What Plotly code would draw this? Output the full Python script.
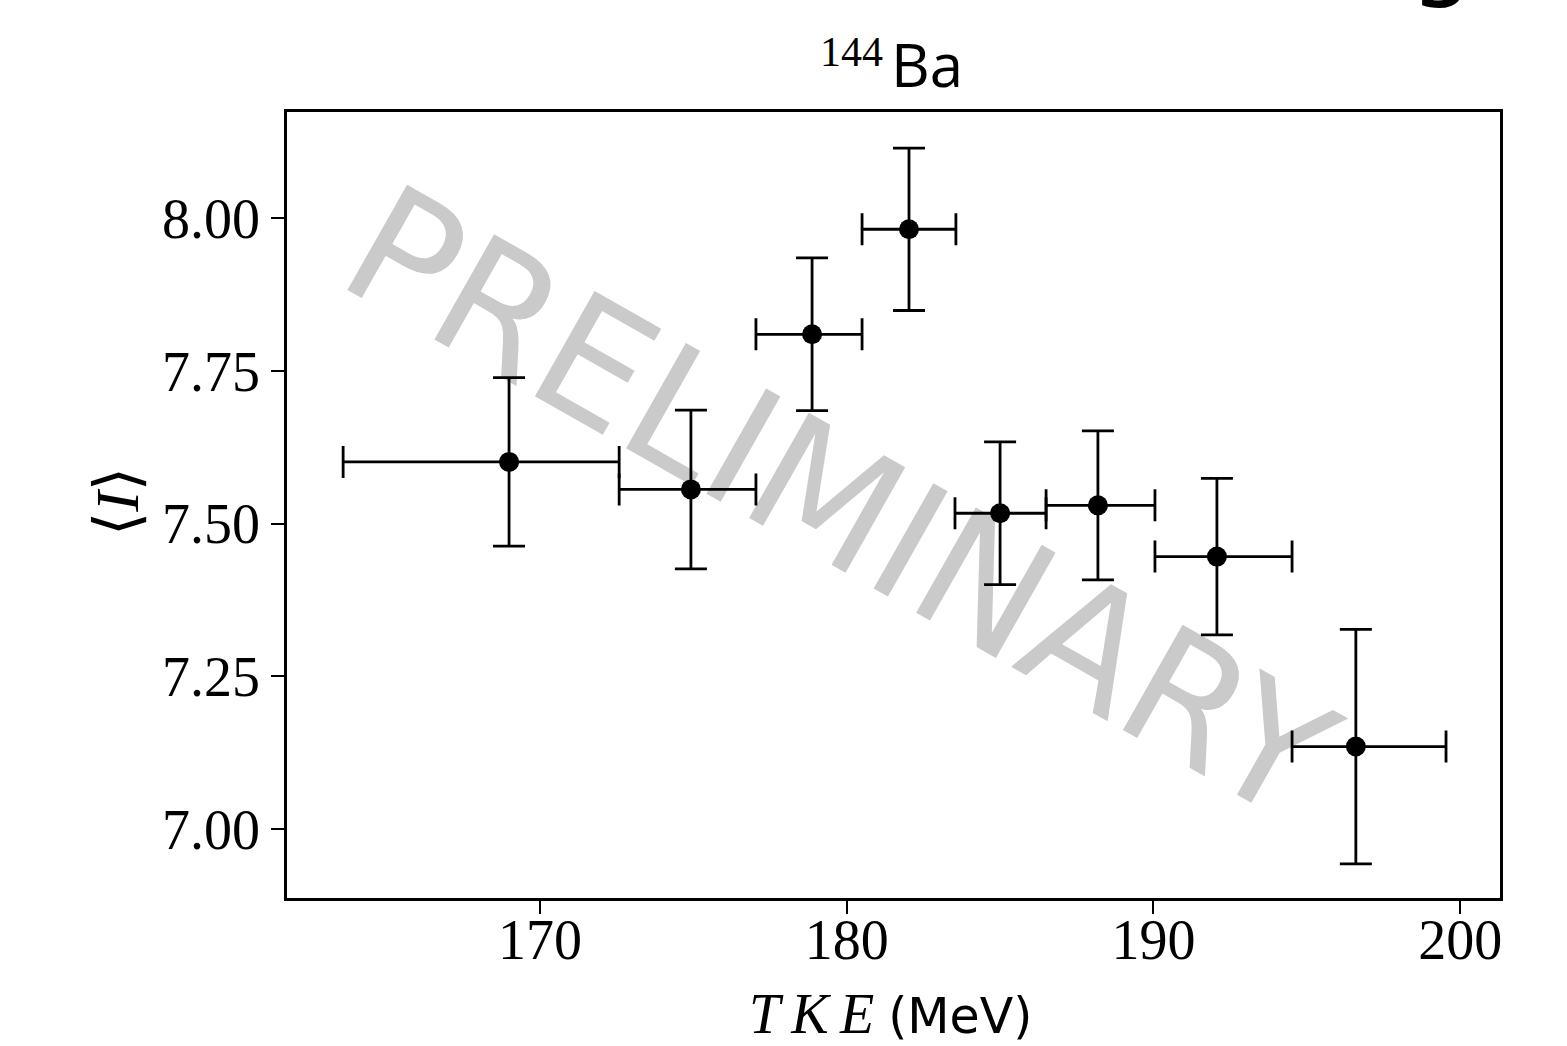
import plotly.graph_objects as go

# Data
tke = [168.99, 174.92, 178.87, 182.03, 185.0, 188.19, 192.07, 196.6]
tke_lo = [163.58, 172.58, 177.04, 180.50, 183.53, 186.50, 190.05, 194.52]
tke_hi = [172.58, 177.04, 180.50, 183.56, 186.50, 190.05, 194.52, 199.54]
mean_I = [7.601, 7.556, 7.810, 7.982, 7.517, 7.530, 7.446, 7.135]
err_I = [0.138, 0.130, 0.125, 0.133, 0.117, 0.122, 0.128, 0.192]
x_ticks = [170, 180, 190, 200]
y_ticks = [7.00, 7.25, 7.50, 7.75, 8.00]
y_ticklabels = ["7.00", "7.25", "7.50", "7.75", "8.00"]

W, H = 1567, 1046
L, R, T, B = 287, 1500, 112, 898

def px(xp):
    return (xp - L) / (R - L)

def py(yp):
    return (B - yp) / (B - T)

err_plus = [h - x for h, x in zip(tke_hi, tke)]
err_minus = [x - l for l, x in zip(tke_lo, tke)]

SERIF = "Liberation Serif, DejaVu Serif, serif"
SANS = "DejaVu Sans, sans-serif"

fig = go.Figure()
fig.add_trace(go.Scatter(
    x=tke, y=mean_I, mode="markers",
    marker=dict(color="black", size=20),
    error_x=dict(type="data", array=err_plus, arrayminus=err_minus, symmetric=False,
                 color="black", thickness=2.8, width=16),
    error_y=dict(type="data", array=err_I, color="black", thickness=2.8, width=16),
    showlegend=False,
))

fig.update_layout(
    width=W, height=H,
    margin=dict(l=L, r=W - R, t=T, b=H - B, autoexpand=False),
    paper_bgcolor="white", plot_bgcolor="white",
    xaxis=dict(range=[161.75, 201.3], tickvals=x_ticks, ticks="outside", ticklen=13,
               tickwidth=2, tickcolor="black", showgrid=False, zeroline=False,
               showline=True, linecolor="black", linewidth=2.5, mirror=True,
               tickfont=dict(family=SERIF, size=56, color="black"), ticklabelstandoff=-22),
    yaxis=dict(range=[6.887, 8.174], tickvals=y_ticks, ticktext=y_ticklabels,
               ticks="outside", ticklen=13, tickwidth=2, tickcolor="black",
               showgrid=False, zeroline=False, showline=True, linecolor="black",
               linewidth=2.5, mirror=True,
               tickfont=dict(family=SERIF, size=56, color="black"), ticklabelstandoff=0),
    shapes=[dict(type="line", xref="paper", yref="paper",
                 x0=px(400), y0=py(240), x1=px(1290), y1=py(745),
                 line=dict(width=0, color="rgba(0,0,0,0)"), layer="below",
                 label=dict(text="PRELIMINARY", textposition="middle",
                            font=dict(family=SANS, size=166, color="#cacaca"),
                            xanchor="center", yanchor="middle"))],
    annotations=[
        dict(text="144", xref="paper", yref="paper", x=px(885), y=py(52),
             xanchor="right", yanchor="middle", showarrow=False,
             font=dict(family=SERIF, size=42, color="black")),
        dict(text="Ba", xref="paper", yref="paper", x=px(889), y=py(64),
             xanchor="left", yanchor="middle", showarrow=False,
             font=dict(family="Open Sans, DejaVu Sans, sans-serif", size=60, color="black")),
        dict(text="<i>T\u2009K\u2009E</i> <span style='font-family:DejaVu Sans;font-size:49px'>(MeV)</span>",
             xref="paper", yref="paper", x=px(890), y=py(1014), xanchor="center", yanchor="middle",
             showarrow=False, font=dict(family=SERIF, size=56, color="black")),
        dict(text="⟨<i>I</i>⟩", textangle=-90,
             xref="paper", yref="paper", x=px(117), y=py(502), xanchor="center", yanchor="middle",
             showarrow=False, font=dict(family=SERIF, size=62, color="black")),
        dict(text="g/(", xref="paper", yref="paper", x=px(1408), y=py(13),
             xanchor="left", yanchor="bottom", showarrow=False,
             font=dict(family=SANS, size=100, color="black")),
    ],
)

fig.write_html("out.html", config={"displayModeBar": False},
               post_script="document.body.style.margin='0px';")
